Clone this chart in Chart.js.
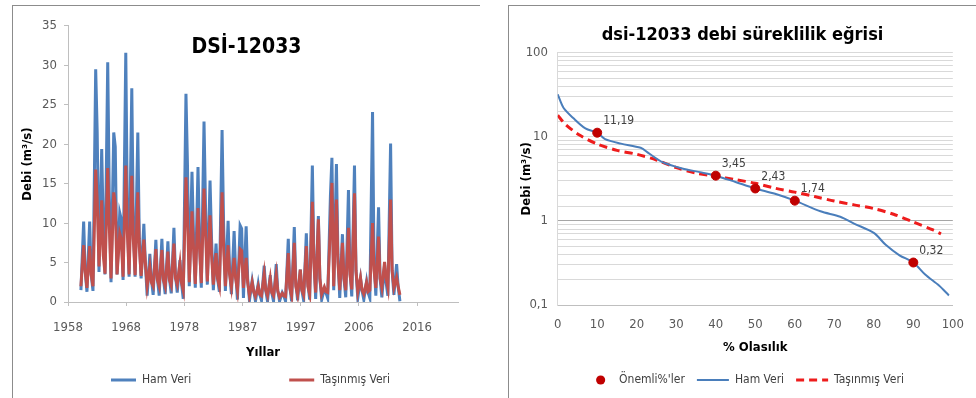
<!DOCTYPE html>
<html lang="tr">
<head>
<meta charset="UTF-8">
<title>DSİ-12033 debi</title>
<script src="https://cdn.jsdelivr.net/npm/chart.js"></script>
<style>
  body { margin: 0; background: #fff; width: 976px; height: 398px; overflow: hidden; position: relative; }
  .panel { position: absolute; top: 5px; border-top: 1px solid #8c8c8c; border-left: 1px solid #8c8c8c; background: #fff; }
  #solPanel { left: 12px; width: 467px; height: 400px; }
  #sagPanel { left: 508px; width: 480px; height: 400px; }
  canvas { display: block; }
</style>
</head>
<body>

<div class="panel" id="solPanel"><canvas id="solGrafik" width="467" height="392"></canvas></div>
<div class="panel" id="sagPanel"><canvas id="sagGrafik" width="467" height="392"></canvas></div>

<script>
// --- sol grafik: aylik debiler (yil basina dip / tepe / omuz okumalari) ---
const yillar = [1960,1961,1962,1963,1964,1965,1966,1967,1968,1969,
  1970,1971,1972,1973,1974,1975,1976,1977,1978,1979,
  1980,1981,1982,1983,1984,1985,1986,1987,1988,1989,
  1990,1991,1992,1993,1994,1995,1996,1997,1998,1999,
  2000,2001,2002,2003,2004,2005,2006,2007,2008,2009,
  2010,2011,2012,2013];

const hamDip = [1.5,1.3,1.4,3.8,3.5,2.5,3.5,2.8,3.2,3.2,
  3.0,0.8,0.9,0.8,1.0,1.1,1.2,0.4,2.0,1.8,
  1.8,2.2,1.5,1.3,1.4,1.0,0.3,0.5,0.2,0.1,
  0.2,0.1,0.1,0.1,0.1,0.1,0.2,0.2,0.3,0.4,
  0.3,0.5,1.5,0.5,0.6,0.7,0.5,0.3,0.5,0.8,
  0.6,0.8,0.9,0.1];
const hamTepe = [10.2,10.2,29.5,19.4,30.4,21.5,11.3,31.6,27.1,21.5,
  9.9,6.1,7.9,8.0,7.7,9.4,5.3,26.4,16.5,17.1,
  22.9,15.4,7.4,21.8,10.3,9.0,9.7,9.6,2.7,2.3,
  4.6,3.4,4.8,1.2,8.0,9.5,4.1,8.7,17.3,10.9,
  1.7,13.4,17.5,8.6,14.2,17.3,3.0,2.6,24.1,12.0,
  4.7,20.1,4.8,null];
const hamOmuz = [4,3.5,21.6,9.6,14,19.7,10.5,12,10,8,
  5,3,3,3,3,3.5,2.5,17.4,8.6,8,
  12,8,3,10,4,4,9.3,3,1.5,1,
  1.5,1.2,1.5,0.8,2,2.5,1.5,2.5,6,3,
  1.2,18.3,6,3,4,4,1.5,1.2,5,3,
  2.5,4,2,null];

const tasDip = [2.0,1.8,2.0,4.5,3.6,3.0,3.5,3.2,3.5,3.4,
  3.3,2.0,2.0,2.0,2.0,2.1,2.2,1.5,2.5,2.3,
  2.4,2.6,2.2,2.0,2.0,1.9,1.5,1.8,0.8,0.7,
  0.8,0.8,0.8,0.6,0.7,0.8,0.9,0.9,1.0,1.2,
  1.0,1.2,2.0,1.5,1.5,1.6,1.3,1.0,1.5,1.8,
  1.8,1.8,1.8,0.9];
const tasTepe = [7.2,7.1,16.8,12.9,17.0,13.9,8.7,17.3,16.0,13.9,
  7.9,4.5,6.7,6.6,6.4,7.4,4.9,15.8,11.5,11.9,
  14.4,11.0,6.2,13.9,7.2,5.6,6.7,5.6,2.5,2.0,
  3.6,3.0,3.5,1.1,6.2,7.5,4.1,7.1,12.7,10.5,
  1.9,9.6,13.0,7.5,9.4,13.8,3.1,2.5,10.0,8.3,
  5.1,13.0,3.1,null];
const tasOmuz = [4,3.5,13,6,10,12.5,8,9,8,7,
  5,2.5,2.8,2.8,2.8,3,2.5,11,7,7,
  9,6,3,7,3.5,3,6.5,2.5,1.3,1.0,
  1.5,1.2,1.4,0.8,1.8,2,1.5,2,5,3,
  1.3,15.1,5,3,3.5,4,1.5,1.3,4,3,
  3,4,2,null];

const solXEtiket = ['1958','1968','1978','1987','1997','2006','2016'];

// --- sag grafik: debi sureklilik egrisi ---
const hamYuzde = [0,1.5,4,7,10,12,16,21,23,26.5,31.5,36,40,45,50,55,60,66.5,71.5,75,80,83,86.5,90,93,96.5,99];
const hamDebi = [32,22,16.6,12.6,11.19,9.4,8.3,7.4,6.4,5.0,4.2,3.8,3.45,2.9,2.43,2.1,1.74,1.3,1.12,0.93,0.72,0.52,0.39,0.32,0.23,0.17,0.13];
const tasYuzde = [0,2,5.5,10,15,20,25,30,35,40,45,50,55,60,65,70,75,80,85,90,95,97];
const tasDebi = [18,14,10.5,8.2,6.9,6.2,5.3,4.3,3.7,3.4,3.1,2.8,2.45,2.2,1.95,1.72,1.55,1.4,1.2,0.97,0.78,0.7];
const onemliYuzde = [10,40,50,60,90];
const onemliDebi = [11.19,3.45,2.43,1.74,0.32];
const onemliEtiket = ['11,19','3,45','2,43','1,74','0,32'];
const sagYDeger = [0.1,1,10,100];
const sagYEtiket = ['0,1','1','10','100'];

const yazi = "'DejaVu Sans Condensed', 'Liberation Sans Narrow', sans-serif";
Chart.defaults.font.family = yazi;
Chart.defaults.color = '#595959';

const mavi = '#4f81bd';
const kirmizi = '#c0504d';

function seri(dip, tepe, omuz) {
  const pts = [];
  yillar.forEach((y, i) => {
    pts.push({x: y + 0.15, y: dip[i]});
    if (tepe[i] !== null) pts.push({x: y + 0.6, y: tepe[i]});
    if (omuz[i] !== null) pts.push({x: y + 0.85, y: omuz[i]});
  });
  return pts;
}

// sag kenarda bos bir eksen: baslik ve lejant tum tuvale gore ortalansin diye
function bosEksen(w) {
  return { position: 'right', display: true, grid: { display: false }, border: { display: false },
    ticks: { display: false }, afterFit: (s) => { s.width = w; } };
}

const ilkYil = Number(solXEtiket[0]);
const sonYil = Number(solXEtiket[solXEtiket.length - 1]);
const adim = (sonYil - ilkYil) / (solXEtiket.length - 1);

new Chart(document.getElementById('solGrafik'), {
  type: 'line',
  data: {
    datasets: [
      { label: 'Ham Veri', data: seri(hamDip, hamTepe, hamOmuz), borderColor: mavi, backgroundColor: mavi,
        borderWidth: 3, pointRadius: 0, tension: 0, order: 2 },
      { label: 'Taşınmış Veri', data: seri(tasDip, tasTepe, tasOmuz), borderColor: kirmizi, backgroundColor: kirmizi,
        borderWidth: 3, pointRadius: 0, tension: 0, order: 1 }
    ]
  },
  options: {
    responsive: false,
    animation: false,
    layout: { padding: { left: 0, right: 0, top: 0, bottom: 2 } },
    scales: {
      x: {
        type: 'linear', min: ilkYil, max: 2022.8,
        afterBuildTicks: (s) => { s.ticks = solXEtiket.map((_, i) => ({ value: ilkYil + i * adim })); },
        afterFit: (s) => { s.height = 62; },
        ticks: { callback: (v, i) => solXEtiket[i], font: { size: 13 }, padding: 14, maxRotation: 0 },
        grid: { drawOnChartArea: false, tickLength: 4, color: '#bfbfbf' },
        border: { color: '#bfbfbf' },
        title: { display: true, text: 'Yıllar', font: { size: 13, weight: 'bold' }, color: '#000', padding: { top: 0, bottom: 3.2 } }
      },
      y: {
        min: 0, max: 35,
        afterFit: (s) => { s.width = 55; },
        ticks: { stepSize: 5, font: { size: 13 }, padding: 7 },
        grid: { drawOnChartArea: false, tickLength: 4, color: '#bfbfbf' },
        border: { color: '#bfbfbf' },
        title: { display: true, text: 'Debi (m³/s)', font: { size: 13, weight: 'bold' }, color: '#000', padding: { top: 7.2, bottom: 0 } }
      },
      sag: bosEksen(22)
    },
    plugins: {
      title: { display: true, text: 'DSİ-12033', font: { size: 21, weight: 'bold' }, color: '#000',
        padding: { top: 29.4, bottom: -34.6 } },
      tooltip: { enabled: false },
      legend: {
        position: 'bottom', align: 'start',
        labels: {
          boxWidth: 113, boxHeight: 0, padding: 10, font: { size: 12 }, color: '#404040',
          sort: (a, b) => a.datasetIndex - b.datasetIndex,
          generateLabels: (chart) => Chart.defaults.plugins.legend.labels.generateLabels(chart)
            .map(it => Object.assign(it, { lineDash: [0, 88, 25, 600], lineDashOffset: 0 }))
        }
      }
    }
  }
});

const noktaEtiketleri = {
  id: 'noktaEtiketleri',
  afterDatasetsDraw(chart) {
    const ctx = chart.ctx;
    ctx.save();
    ctx.font = '12px ' + yazi;
    ctx.fillStyle = '#404040';
    ctx.textBaseline = 'middle';
    chart.getDatasetMeta(0).data.forEach((p, i) => ctx.fillText(onemliEtiket[i], p.x + 6, p.y - 12));
    ctx.restore();
  }
};

function yakin(a, b) { return Math.abs(a - b) < 1e-6 * b; }

new Chart(document.getElementById('sagGrafik'), {
  type: 'line',
  data: {
    datasets: [
      { label: "Önemli%'ler", data: onemliYuzde.map((x, i) => ({ x, y: onemliDebi[i] })), showLine: false,
        pointRadius: 4.5, pointBackgroundColor: '#c00000', pointBorderColor: '#c00000', borderColor: '#c00000', backgroundColor: '#c00000' },
      { label: 'Ham Veri', data: hamYuzde.map((x, i) => ({ x, y: hamDebi[i] })), borderColor: '#4a7ebb', backgroundColor: '#4a7ebb',
        borderWidth: 2, pointRadius: 0, tension: 0.3 },
      { label: 'Taşınmış Veri', data: tasYuzde.map((x, i) => ({ x, y: tasDebi[i] })), borderColor: '#ee1c1c', backgroundColor: '#ee1c1c',
        borderWidth: 3, borderDash: [8, 5], pointRadius: 0, tension: 0.3 }
    ]
  },
  options: {
    responsive: false,
    animation: false,
    layout: { padding: { left: 0, right: 0, top: 0, bottom: 2 } },
    scales: {
      x: {
        type: 'linear', min: 0, max: 100,
        afterFit: (s) => { s.height = 57; },
        ticks: { stepSize: 10, font: { size: 13 }, padding: 12, maxRotation: 0 },
        grid: { display: false, drawTicks: false },
        border: { color: '#bfbfbf' },
        title: { display: true, text: '% Olasılık', font: { size: 13, weight: 'bold' }, color: '#000', padding: { top: 0, bottom: 6.2 } }
      },
      y: {
        type: 'logarithmic', min: 0.1, max: 100,
        afterFit: (s) => { s.width = 48.7; },
        ticks: {
          font: { size: 13 }, padding: 9.7, autoSkip: false,
          callback: (v) => { const i = sagYDeger.findIndex(d => yakin(v, d)); return i < 0 ? '' : sagYEtiket[i]; }
        },
        grid: { drawTicks: false, color: (c) => (c.tick && yakin(c.tick.value, 1)) ? '#a6a6a6' : '#d9d9d9' },
        border: { color: '#d9d9d9' },
        title: { display: true, text: 'Debi (m³/s)', font: { size: 13, weight: 'bold' }, color: '#000', padding: { top: 10.2, bottom: 0 } }
      },
      sag: bosEksen(19.3)
    },
    plugins: {
      title: { display: true, text: 'dsi-12033 debi süreklilik eğrisi', font: { size: 18, weight: 'bold' }, color: '#000',
        padding: { top: 18.2, bottom: 6.9 } },
      tooltip: { enabled: false },
      legend: {
        position: 'bottom',
        labels: {
          boxWidth: 32, boxHeight: 0, padding: 12, font: { size: 12 }, color: '#404040',
          generateLabels: (chart) => Chart.defaults.plugins.legend.labels.generateLabels(chart).map(it => {
            if (it.datasetIndex === 0) return Object.assign(it, { lineWidth: 9, lineCap: 'round', lineDash: [0.1, 300], lineDashOffset: 280.6 });
            if (it.datasetIndex === 2) return Object.assign(it, { lineDash: [8, 5, 8, 5, 8, 100], lineDashOffset: 0 });
            return it;
          })
        }
      }
    }
  },
  plugins: [noktaEtiketleri]
});
</script>
</body>
</html>
